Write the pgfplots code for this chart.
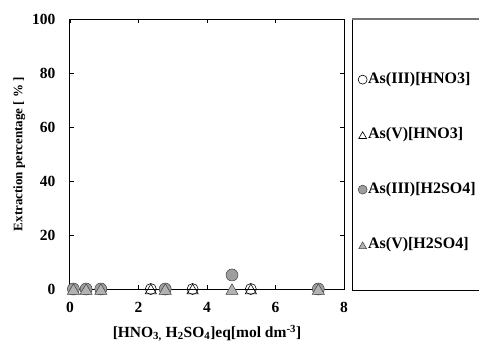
\documentclass[border=0pt]{standalone}
\usepackage{pgfplots}
\pgfplotsset{compat=1.18}
\usepackage{fontspec}
\setmainfont{Liberation Serif}
\begin{document}
\begin{tikzpicture}
\begin{axis}[
  scale only axis, width=274pt, height=270pt,
  at={(0,0)}, anchor=south west,
  xmin=0, xmax=8, ymin=0, ymax=100,
  xtick={0,2,...,8}, ytick={0,20,...,100},
  tick align=inside, major tick length=4pt,
  axis line style={line width=1pt},
  tick style={line width=0.8pt, black},
  /pgf/number format/assume math mode=true,
  ticklabel style={font=\fontsize{15.5}{17}\selectfont\bfseries},
  y tick label style={xshift=-11pt},
  x tick label style={yshift=-10pt},
  xlabel={[HNO\textsubscript{3,} H\textsubscript{2}SO\textsubscript{4}]eq[mol dm\textsuperscript{-3}]},
  ylabel={Extraction percentage [ \% ]},
  xlabel style={font=\fontsize{15.5}{17}\selectfont\bfseries, yshift=-5pt},
  ylabel style={font=\fontsize{13}{15}\selectfont\bfseries, yshift=0pt},
  clip=false,
  legend cell align=left,
  legend style={at={(1.051,0.804)}, anchor=north west, draw=none, fill=none,
    inner sep=0pt, row sep=40pt,
    nodes={inner sep=1pt, text height=10pt, text depth=3pt, font=\fontsize{16}{18}\selectfont\bfseries}},
  legend image code/.code={\draw[mark size=4.5pt, mark repeat=2, mark phase=2] plot coordinates {(0cm,0cm) (0.15cm,0cm) (0.3cm,0cm)};},
]
\addplot[only marks, mark=o, mark size=5.5pt, mark options={fill=white, draw=black, line width=0.6pt}] coordinates {(2.36,0) (3.58,0) (5.28,0)};
\addlegendentry{As(III)[HNO3]}
\addplot[only marks, mark=triangle, mark size=6.5pt, mark options={draw=black, line width=0.6pt, yshift=-1.6pt}] coordinates {(2.36,0) (3.58,0) (5.28,0)};
\addlegendentry{As(V)[HNO3]}
\addplot[only marks, mark=*, mark size=6pt, mark options={fill=black!38, draw=black!75, line width=0.5pt}] coordinates {(0.1,0) (0.47,0) (0.9,0) (2.78,0) (4.73,5.2) (7.25,0)};
\addlegendentry{As(III)[H2SO4]}
\addplot[only marks, mark=triangle*, mark size=7pt, mark options={fill=black!30, draw=black!75, line width=0.5pt, yshift=-1.8pt}] coordinates {(0.1,0) (0.47,0) (0.9,0) (2.78,0) (4.73,0) (7.25,0)};
\addlegendentry{As(V)[H2SO4]}
\end{axis}
\draw[line width=0.8pt] (282pt,270pt) -- (282pt,-1pt) -- (440pt,-1pt);
\draw[line width=1.2pt, black!55] (282pt,270pt) -- (440pt,270pt);
\pgfresetboundingbox
\useasboundingbox (-70pt,-52pt) rectangle (409pt,289pt);
\end{tikzpicture}
\end{document}
